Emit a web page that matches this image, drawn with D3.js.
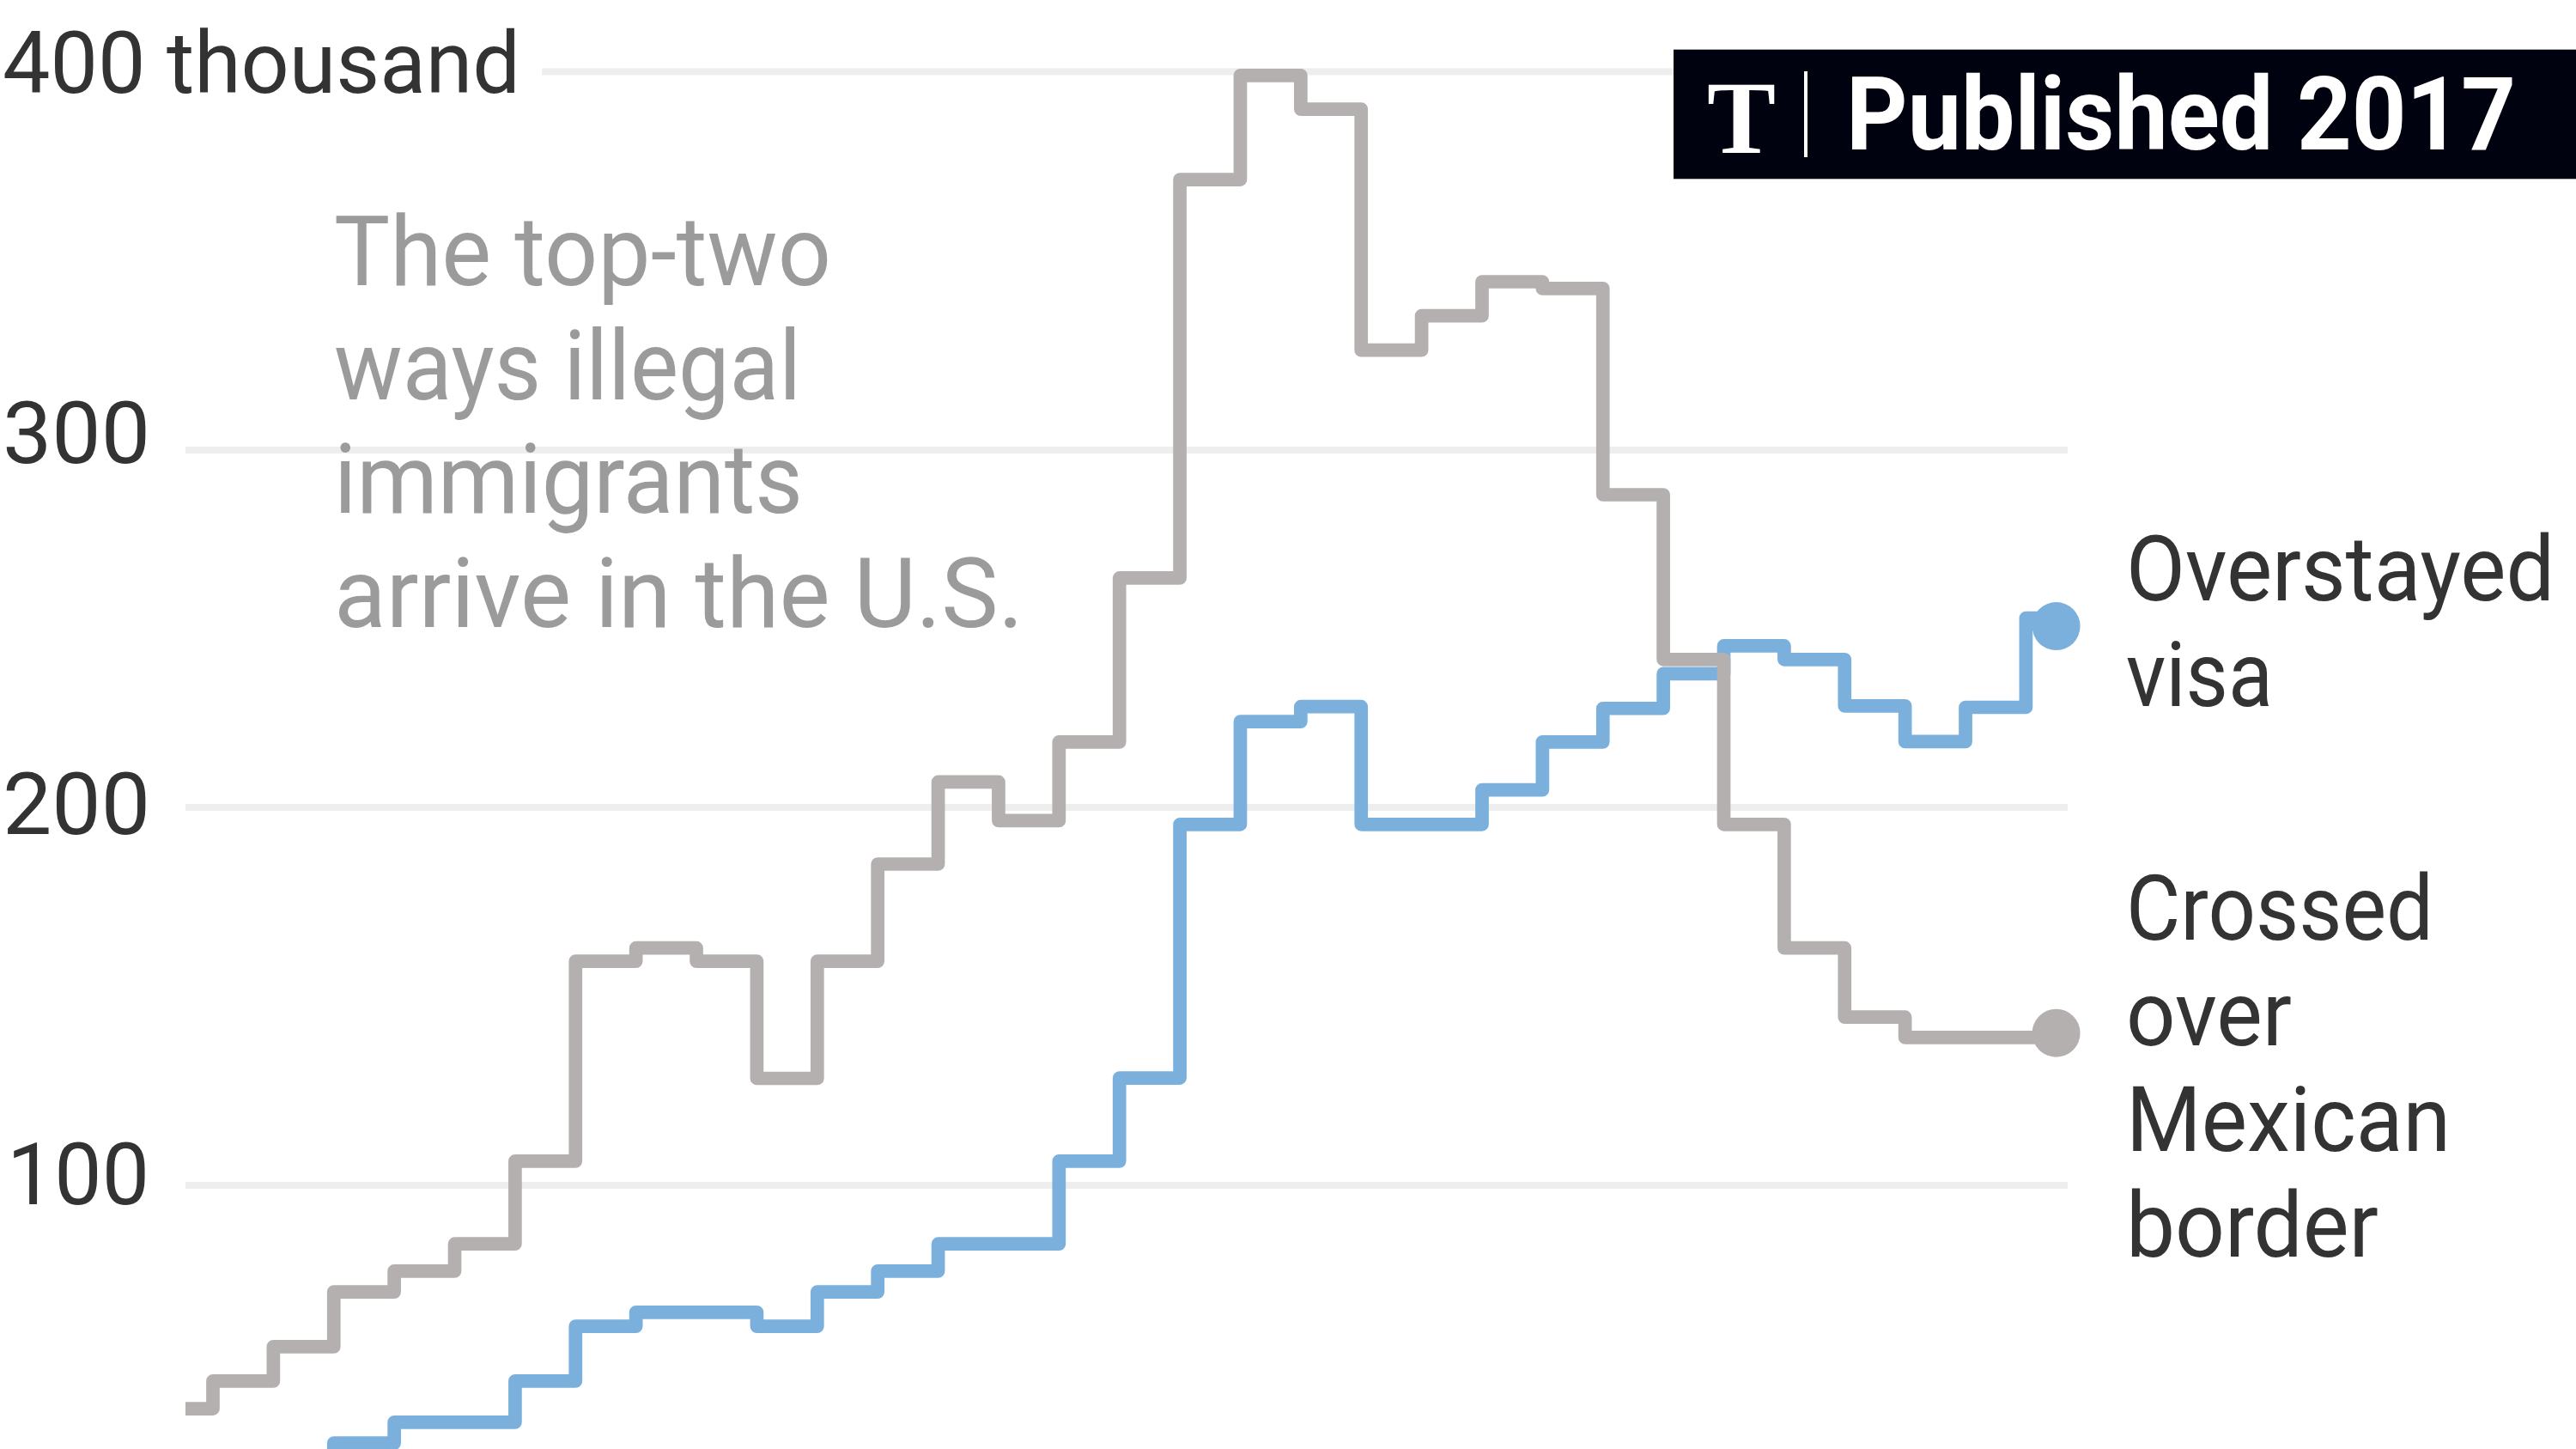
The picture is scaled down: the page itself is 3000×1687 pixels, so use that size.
<!DOCTYPE html>
<html><head><meta charset="utf-8">
<script src="https://cdn.jsdelivr.net/npm/d3@7"></script>
<style>html,body{margin:0;padding:0;background:#fff;} svg{display:block}</style>
</head><body>
<script>
// ---- data ----
const years = d3.range(1981, 2013);
const borderValues = [40.9, 48.2, 57.3, 71.8, 77.3, 84.5, 106.4, 159.3, 162.8, 159.3, 128.3, 159.3, 185.0, 207.1, 196.5, 218.3, 264.2, 371.5, 399.0, 390.1, 326.4, 335.5, 344.5, 342.7, 287.5, 241.4, 195.5, 162.8, 144.5, 139.1, 139.1, 139.1];
const visaValues = [22, 25, 28, 31.8, 37.3, 37.3, 48.2, 62.7, 66.4, 66.4, 62.7, 71.8, 77.3, 84.5, 84.5, 106.4, 128.4, 195.5, 224.0, 228.2, 195.5, 195.5, 204.9, 218.3, 227.7, 237.4, 245.2, 241.4, 228.4, 218.4, 228.0, 253.0];
const endDotValues = {visa: 250.7, border: 140.3};
const yTicks = [100, 200, 300, 400];
const yTickLabels = ["100", "200", "300", "400 thousand"];
const annotationLines = ["The top-two", "ways illegal", "immigrants", "arrive in the U.S."];
const visaLabelLines = ["Overstayed", "visa"];
const borderLabelLines = ["Crossed", "over", "Mexican", "border"];
const badgeText = "Published 2017";

// ---- layout ----
const W = 3000, H = 1687;
const plotLeft = 216, plotRight = 2408;
const GRAY = "#b4b0af", BLUE = "#7bb0dc";

const svg = d3.select("body").append("svg").attr("width", W).attr("height", H);
svg.append("rect").attr("width", W).attr("height", H).attr("fill", "#fff");

const x = d3.scaleLinear().domain([1981, 2012]).range([212.8, 2394.6]);
const y = d3.scaleLinear().domain([100, 200, 300, 400]).range([1380, 940, 524, 83.5]);
const yLabel = d3.scaleLinear().domain([100, 400]).range([1401.7, 108.3]);

function fit(sel, w) {
  sel.attr("textLength", w).attr("lengthAdjust", "spacingAndGlyphs");
}

// gridlines
svg.append("g").selectAll("line").data(yTicks).join("line")
  .attr("x1", d => d === 400 ? 631 : plotLeft)
  .attr("x2", plotRight)
  .attr("y1", d => y(d)).attr("y2", d => y(d))
  .attr("stroke", "#eeeeee").attr("stroke-width", 8);

// axis labels
const tickWidths = {100: 166, 200: 172, 300: 172, 400: 603};
svg.append("g").selectAll("text").data(yTicks).join("text")
  .attr("x", d => d === 100 ? 8 : 3)
  .attr("y", d => yLabel(d))
  .attr("font-family", "Roboto, 'Liberation Sans', sans-serif")
  .attr("font-size", 101)
  .attr("fill", "#333")
  .text((d, i) => yTickLabels[i])
  .each(function(d) { fit(d3.select(this), tickWidths[d]); });

// annotation
const annW = [579, 544, 546, 803];
svg.append("g").selectAll("text").data(annotationLines).join("text")
  .attr("x", 389)
  .attr("y", (d, i) => 332 + i * 132.5)
  .attr("font-family", "Roboto, 'Liberation Sans', sans-serif")
  .attr("font-size", 114)
  .attr("fill", "#9b9b9b")
  .text(d => d)
  .each(function(d, i) { fit(d3.select(this), annW[i]); });

// lines
svg.append("defs").append("clipPath").attr("id", "plotclip")
  .append("rect").attr("x", plotLeft).attr("y", 0).attr("width", W - plotLeft).attr("height", H);

const line = d3.line().x(d => x(d.year)).y(d => y(d.value)).curve(d3.curveStep);
const visaData = years.map((yr, i) => ({year: yr, value: visaValues[i]}));
const borderData = years.map((yr, i) => ({year: yr, value: borderValues[i]}));

const plot = svg.append("g").attr("clip-path", "url(#plotclip)");
plot.append("path").datum(visaData).attr("d", line)
  .attr("fill", "none").attr("stroke", BLUE).attr("stroke-width", 15.7)
  .attr("stroke-linejoin", "round");
plot.append("path").datum(borderData).attr("d", line)
  .attr("fill", "none").attr("stroke", GRAY).attr("stroke-width", 15.7)
  .attr("stroke-linejoin", "round");

// end dots
const lastYear = years[years.length - 1];
const ends = [
  {year: lastYear, value: endDotValues.visa, c: BLUE},
  {year: lastYear, value: endDotValues.border, c: GRAY}
];
svg.append("g").selectAll("circle").data(ends).join("circle")
  .attr("cx", e => x(e.year)).attr("cy", e => y(e.value))
  .attr("r", 28).attr("fill", e => e.c);

// right labels
const visaW = [499, 171];
svg.append("g").selectAll("text").data(visaLabelLines).join("text")
  .attr("x", 2476).attr("y", (d, i) => 699 + i * 123)
  .attr("font-family", "Roboto, 'Liberation Sans', sans-serif")
  .attr("font-size", 105).attr("fill", "#333")
  .text(d => d)
  .each(function(d, i) { fit(d3.select(this), visaW[i]); });

const borderW = [358, 193, 378, 294];
svg.append("g").selectAll("text").data(borderLabelLines).join("text")
  .attr("x", 2476).attr("y", (d, i) => 1094.4 + i * 123)
  .attr("font-family", "Roboto, 'Liberation Sans', sans-serif")
  .attr("font-size", 105).attr("fill", "#333")
  .text(d => d)
  .each(function(d, i) { fit(d3.select(this), borderW[i]); });

// badge
const badge = svg.append("g");
badge.append("rect").attr("x", 1949).attr("y", 57.7).attr("width", W - 1949).attr("height", 150.6)
  .attr("fill", "#00030f");
badge.append("text").attr("x", 2028).attr("y", 178)
  .attr("text-anchor", "middle")
  .attr("font-family", "'Liberation Serif', 'DejaVu Serif', serif")
  .attr("font-weight", 700).attr("font-size", 120).attr("fill", "#fff")
  .text("T");
badge.append("line").attr("x1", 2103).attr("x2", 2103).attr("y1", 83).attr("y2", 183)
  .attr("stroke", "#fff").attr("stroke-width", 4);
badge.append("text").attr("x", 2150).attr("y", 174)
  .attr("font-family", "Roboto, 'Liberation Sans', sans-serif")
  .attr("font-weight", 700).attr("font-size", 118).attr("fill", "#fff")
  .text(badgeText)
  .call(s => fit(s, 780));
</script>
</body></html>
